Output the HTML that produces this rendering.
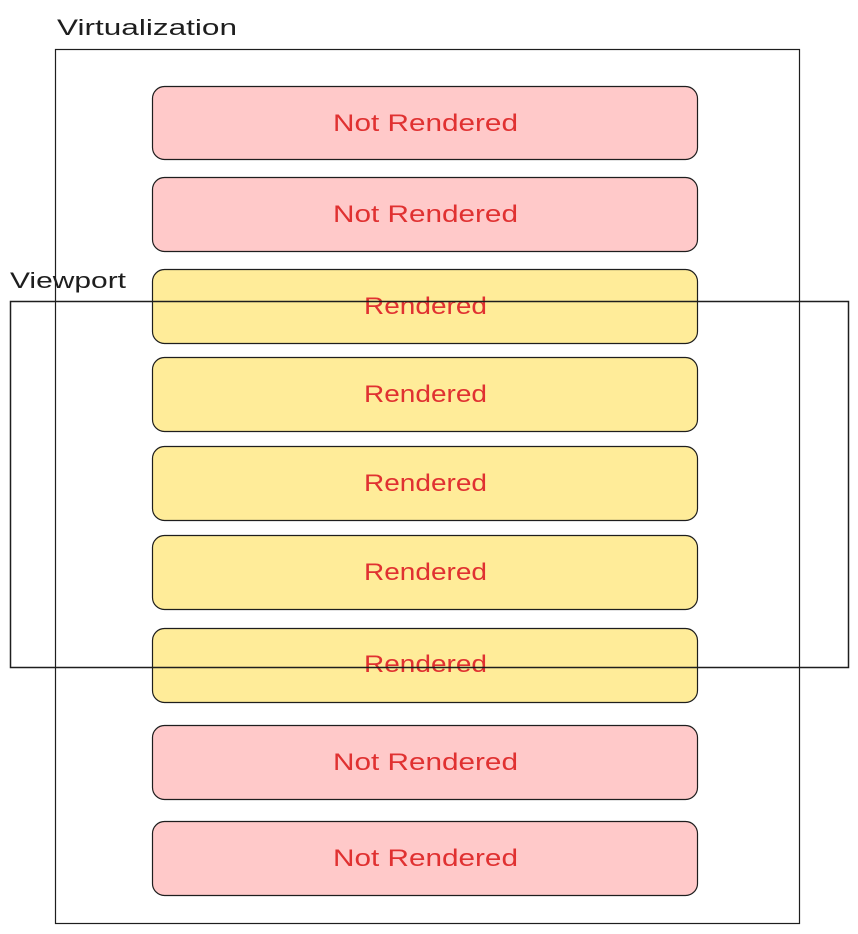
<!DOCTYPE html>
<html><head><meta charset="utf-8"><style>
html,body{margin:0;padding:0;background:#fff;width:858px;height:934px;overflow:hidden}
svg text{font-family:"Liberation Sans",sans-serif}
</style></head><body>
<svg width="858" height="934" viewBox="0 0 858 934" xmlns="http://www.w3.org/2000/svg">
<text x="57" y="35" font-size="22" fill="#1e1e1e" textLength="180" lengthAdjust="spacingAndGlyphs">Virtualization</text>
<rect x="55.5" y="49.5" width="744" height="874" fill="none" stroke="#1e1e1e" stroke-width="1.2"/>
<g stroke="#1e1e1e" stroke-width="1.2">
<rect x="152.5" y="86.5" width="545" height="73" rx="12" fill="#ffc9c9"/>
<rect x="152.5" y="177.5" width="545" height="74" rx="12" fill="#ffc9c9"/>
<rect x="152.5" y="269.5" width="545" height="74" rx="12" fill="#ffec99"/>
<rect x="152.5" y="357.5" width="545" height="74" rx="12" fill="#ffec99"/>
<rect x="152.5" y="446.5" width="545" height="74" rx="12" fill="#ffec99"/>
<rect x="152.5" y="535.5" width="545" height="74" rx="12" fill="#ffec99"/>
<rect x="152.5" y="628.5" width="545" height="74" rx="12" fill="#ffec99"/>
<rect x="152.5" y="725.5" width="545" height="74" rx="12" fill="#ffc9c9"/>
<rect x="152.5" y="821.5" width="545" height="74" rx="12" fill="#ffc9c9"/>
</g>
<g font-size="24" fill="#e03131">
<text x="333" y="131" textLength="185" lengthAdjust="spacingAndGlyphs">Not Rendered</text>
<text x="333" y="222" textLength="185" lengthAdjust="spacingAndGlyphs">Not Rendered</text>
<text x="364" y="314" textLength="123" lengthAdjust="spacingAndGlyphs">Rendered</text>
<text x="364" y="402" textLength="123" lengthAdjust="spacingAndGlyphs">Rendered</text>
<text x="364" y="491" textLength="123" lengthAdjust="spacingAndGlyphs">Rendered</text>
<text x="364" y="580" textLength="123" lengthAdjust="spacingAndGlyphs">Rendered</text>
<text x="364" y="672" textLength="123" lengthAdjust="spacingAndGlyphs">Rendered</text>
<text x="333" y="770" textLength="185" lengthAdjust="spacingAndGlyphs">Not Rendered</text>
<text x="333" y="866" textLength="185" lengthAdjust="spacingAndGlyphs">Not Rendered</text>
</g>
<text x="10" y="288" font-size="22" fill="#1e1e1e" textLength="116" lengthAdjust="spacingAndGlyphs">Viewport</text>
<rect x="10.5" y="301.5" width="838" height="366" fill="none" stroke="#1e1e1e" stroke-width="1.5"/>
</svg>
</body></html>
